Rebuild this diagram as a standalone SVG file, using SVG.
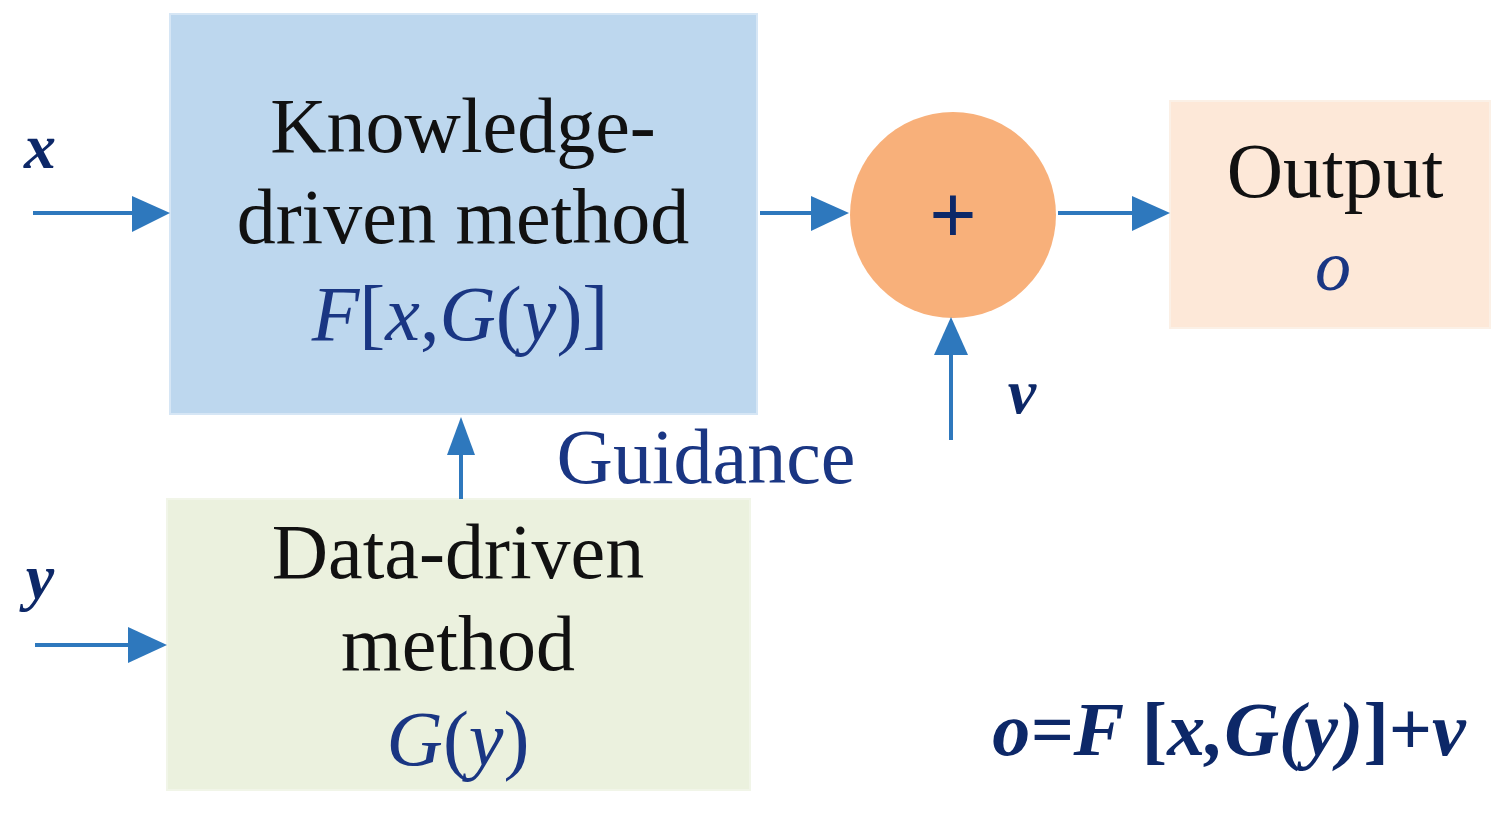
<svg xmlns="http://www.w3.org/2000/svg" width="1504" height="813" viewBox="0 0 1504 813">
<defs>
<style>
.t{font-family:"Liberation Serif","Times New Roman",serif;font-size:78px;text-anchor:middle}
.blk{fill:#111}
.nv{fill:#1A3683}
.bi{font-weight:bold;font-style:italic;fill:#0D2868}
.it{font-style:italic}
.ln{stroke:#2E78BD;stroke-width:4;fill:none}
.hd{fill:#2E78BD}
</style>
</defs>
<rect width="1504" height="813" fill="#fff"/>
<g id="knowledge">
<rect x="170" y="14" width="587" height="400" fill="#BDD7EE" stroke="#D6E6F5" stroke-width="2"/>
<text class="t blk" x="463" y="152">Knowledge-</text>
<text class="t blk" x="463" y="243">driven method</text>
<text class="t nv" x="460" y="340"><tspan class="it">F</tspan>[<tspan class="it">x</tspan>,<tspan class="it">G</tspan>(<tspan class="it">y</tspan>)]</text>
</g>
<g id="data">
<rect x="167" y="499" width="583" height="291" fill="#EBF1DE" stroke="#F1F5E8" stroke-width="2"/>
<text class="t blk" x="458" y="578">Data-driven</text>
<text class="t blk" x="458" y="670">method</text>
<text class="t nv" x="458" y="765"><tspan class="it">G</tspan>(<tspan class="it">y</tspan>)</text>
</g>
<g id="sum">
<circle cx="953" cy="215" r="103" fill="#F8B07A"/>
<text class="t" x="953" y="243" fill="#0D2868" style="font-size:84px;font-weight:bold">+</text>
</g>
<g id="output">
<rect x="1170" y="101" width="320" height="227" fill="#FDE8D8" stroke="#FBF0E6" stroke-width="2"/>
<text class="t blk" x="1335" y="197">Output</text>
<text class="t nv it" x="1333" y="290" style="font-size:72px">o</text>
</g>
<g id="labels">
<text class="t bi" x="40" y="168" style="font-size:64px">x</text>
<text class="t bi" x="40" y="598" style="font-size:64px">y</text>
<text class="t bi" x="1022" y="413" style="font-size:64px">v</text>
<text class="t nv" x="706" y="483">Guidance</text>
<text class="t bi" x="1229" y="755" style="font-size:76px">o=F <tspan style="font-style:normal">[</tspan>x,G(y)<tspan style="font-style:normal">]+</tspan>v</text>
</g>
<g id="connectors">
<line class="ln" x1="33" y1="213" x2="136" y2="213"/>
<polygon class="hd" points="132,196 170,213 132,232"/>
<line class="ln" x1="760" y1="213" x2="815" y2="213"/>
<polygon class="hd" points="811,196 849,213 811,231"/>
<line class="ln" x1="1058" y1="213" x2="1136" y2="213"/>
<polygon class="hd" points="1132,196 1170,213 1132,231"/>
<line class="ln" x1="951" y1="440" x2="951" y2="350"/>
<polygon class="hd" points="934,355 951,317 968,355"/>
<line class="ln" x1="461" y1="499" x2="461" y2="450"/>
<polygon class="hd" points="447,455 461,417 475,455"/>
<line class="ln" x1="35" y1="645" x2="132" y2="645"/>
<polygon class="hd" points="128,627 167,645 128,663"/>
</g>
</svg>
